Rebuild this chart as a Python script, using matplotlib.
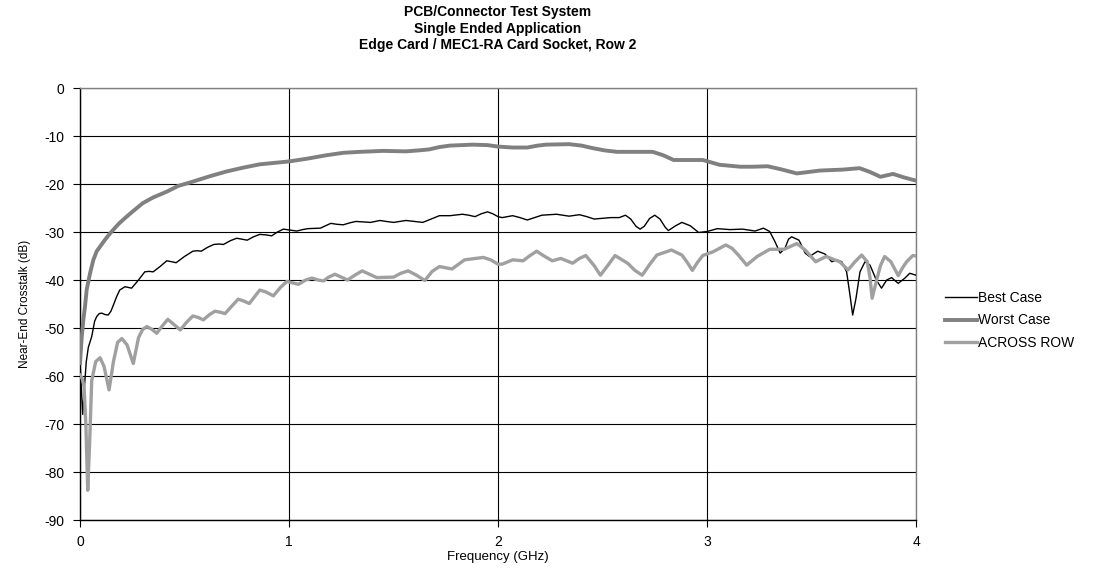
import matplotlib
matplotlib.use("Agg")
import matplotlib.pyplot as plt

plt.rcParams['font.family'] = ['Liberation Sans', 'DejaVu Sans']

# ---- data ----
best_f = [0, 0.006, 0.013, 0.02, 0.03, 0.04, 0.056, 0.07, 0.08, 0.092, 0.104, 0.12, 0.135,
          0.148, 0.16, 0.175, 0.19, 0.215, 0.247, 0.28, 0.31, 0.33, 0.35, 0.383, 0.415,
          0.44, 0.46, 0.50, 0.54, 0.56, 0.58, 0.61, 0.64, 0.665, 0.686, 0.72, 0.75, 0.775,
          0.80, 0.83, 0.86, 0.89, 0.917, 0.945, 0.973, 1.005, 1.037, 1.065, 1.09, 1.15,
          1.175, 1.20, 1.23, 1.26, 1.29, 1.32, 1.355, 1.39, 1.435, 1.465, 1.50, 1.53, 1.56,
          1.60, 1.64, 1.68, 1.72, 1.77, 1.83, 1.86, 1.89, 1.92, 1.95, 1.975, 2.0, 2.02,
          2.045, 2.07, 2.105, 2.14, 2.175, 2.21, 2.28, 2.34, 2.39, 2.425, 2.46, 2.54, 2.58,
          2.61, 2.635, 2.66, 2.68, 2.70, 2.725, 2.75, 2.775, 2.80, 2.815, 2.85, 2.88, 2.92,
          2.96, 3.0, 3.05, 3.11, 3.17, 3.23, 3.27, 3.30, 3.325, 3.35, 3.373, 3.39, 3.405,
          3.44, 3.47, 3.49, 3.53, 3.565, 3.597, 3.62, 3.645, 3.668, 3.684, 3.697, 3.713,
          3.732, 3.756, 3.78, 3.81, 3.835, 3.86, 3.883, 3.915, 3.947, 3.97, 4.0]
best_db = [-57, -62, -68, -63, -57, -54, -51.8, -48.6, -47.6, -47, -46.9, -47.2, -47.3,
           -46.5, -45.2, -43.5, -42.1, -41.4, -41.7, -40, -38.3, -38.2, -38.3, -37.2, -36,
           -36.2, -36.4, -35.1, -34, -33.9, -34, -33.2, -32.6, -32.5, -32.6, -31.8, -31.3,
           -31.5, -31.7, -31, -30.5, -30.6, -30.8, -30, -29.4, -29.6, -29.8, -29.5, -29.3,
           -29.2, -28.7, -28.2, -28.4, -28.5, -28.1, -27.8, -27.9, -28, -27.6, -27.8, -28,
           -27.8, -27.6, -27.8, -28, -27.3, -26.6, -26.6, -26.3, -26.5, -26.8, -26.2, -25.8,
           -26.2, -26.8, -27, -26.8, -26.6, -27, -27.5, -27, -26.5, -26.3, -26.7, -26.4,
           -26.8, -27.3, -27, -27, -26.5, -27.3, -28.8, -29.4, -28.8, -27.2, -26.5, -27.3,
           -29.0, -29.7, -28.7, -28, -28.7, -30.1, -29.9, -29.3, -29.5, -29.4, -29.8, -29.2,
           -29.9, -32, -34.4, -33.4, -31.5, -31, -31.7, -34.4, -35.1, -34, -34.6, -36.2,
           -35.8, -36.2, -38.3, -43.1, -47.3, -43.8, -38.3, -36.2, -36.9, -40, -41.7, -40,
           -39.5, -40.7, -39.6, -38.6, -39]

worst_f = [0, 0.008, 0.016, 0.024, 0.032, 0.048, 0.064, 0.08, 0.10, 0.12, 0.14, 0.16,
           0.185, 0.21, 0.25, 0.30, 0.35, 0.415, 0.47, 0.54, 0.62, 0.70, 0.78, 0.86, 0.93,
           1.0, 1.09, 1.18, 1.26, 1.34, 1.45, 1.56, 1.62, 1.67, 1.72, 1.77, 1.88, 1.95, 2.0,
           2.07, 2.14, 2.19, 2.23, 2.34, 2.40, 2.45, 2.51, 2.57, 2.74, 2.79, 2.84, 2.98,
           3.06, 3.16, 3.22, 3.29, 3.36, 3.43, 3.54, 3.65, 3.73, 3.78, 3.83, 3.89, 3.94, 4.0]
worst_db = [-57.3, -52, -48.3, -45.5, -42, -38.6, -35.8, -34, -32.8, -31.6, -30.5, -29.5,
            -28.3, -27.3, -25.8, -24, -22.8, -21.6, -20.4, -19.5, -18.4, -17.4, -16.6, -15.9,
            -15.6, -15.3, -14.7, -14, -13.5, -13.3, -13.1, -13.2, -13.0, -12.8, -12.3, -12.0,
            -11.8, -11.9, -12.2, -12.4, -12.4, -12.0, -11.8, -11.7, -12.0, -12.5, -13.0,
            -13.3, -13.3, -14.0, -15, -15, -16, -16.4, -16.4, -16.3, -17.0, -17.8, -17.2,
            -17.0, -16.7, -17.5, -18.5, -17.9, -18.6, -19.3]

across_f = [0, 0.01, 0.019, 0.028, 0.037, 0.046, 0.056, 0.075, 0.096, 0.115, 0.139, 0.16,
            0.18, 0.20, 0.225, 0.255, 0.28, 0.30, 0.32, 0.345, 0.367, 0.395, 0.42, 0.45,
            0.48, 0.51, 0.54, 0.565, 0.59, 0.62, 0.646, 0.67, 0.694, 0.725, 0.757, 0.785,
            0.81, 0.835, 0.86, 0.89, 0.925, 0.96, 0.99, 1.045, 1.08, 1.11, 1.14, 1.165, 1.19,
            1.22, 1.25, 1.28, 1.315, 1.35, 1.385, 1.42, 1.50, 1.535, 1.57, 1.61, 1.65, 1.685,
            1.72, 1.78, 1.84, 1.93, 1.965, 2.0, 2.02, 2.07, 2.12, 2.15, 2.185, 2.22, 2.26,
            2.30, 2.357, 2.39, 2.42, 2.46, 2.49, 2.525, 2.56, 2.62, 2.655, 2.69, 2.725, 2.76,
            2.83, 2.88, 2.905, 2.93, 2.955, 2.98, 3.03, 3.09, 3.12, 3.15, 3.19, 3.24, 3.30,
            3.37, 3.43, 3.47, 3.52, 3.57, 3.635, 3.675, 3.708, 3.74, 3.767, 3.78, 3.79, 3.81,
            3.83, 3.85, 3.88, 3.915, 3.935, 3.955, 3.985, 4.0]
across_db = [-59.8, -60.5, -62, -70, -83.8, -74, -61, -57, -56.2, -58, -62.9, -57, -53,
             -52.2, -53.5, -57.4, -52, -50.3, -49.7, -50.3, -51.1, -49.5, -48.2, -49.3, -50.4,
             -48.8, -47.5, -47.8, -48.3, -47.2, -46.5, -46.7, -47, -45.5, -44, -44.4, -44.9,
             -43.5, -42.1, -42.5, -43.3, -41.5, -40.3, -40.9, -40, -39.6, -40, -40.2, -39.4,
             -38.8, -39.4, -40, -39, -38.1, -38.8, -39.5, -39.4, -38.6, -38.1, -39, -40.1,
             -38.2, -37.2, -37.7, -35.8, -35.3, -35.8, -36.7, -36.7, -35.8, -36, -35, -34,
             -35, -36, -35.5, -36.5, -35.5, -34.9, -37, -39, -37, -34.9, -36.5, -38, -39,
             -36.8, -34.8, -33.75, -34.8, -36.3, -38, -36.3, -34.9, -34.1, -32.7, -33.4, -34.8,
             -36.9, -35.1, -33.6, -33.6, -32.4, -33.75, -36.2, -35.1, -36.2, -37.9, -36.2,
             -34.8, -36.2, -39.5, -43.8, -40.3, -37, -35.1, -36.2, -39.1, -37.5, -36.2, -34.9,
             -35]

x_ticks = [0, 1, 2, 3, 4]
y_ticks = [0, -10, -20, -30, -40, -50, -60, -70, -80, -90]

title = "PCB/Connector Test System\nSingle Ended Application\nEdge Card / MEC1-RA Card Socket, Row 2"

# ---- figure ----
fig = plt.figure(figsize=(11.14, 5.75), dpi=100)
ax = fig.add_axes([80/1114, 55/575, 836/1114, 432/575])

ax.plot(best_f, best_db, color='black', lw=1.0, label='Best Case', zorder=3,
        solid_joinstyle='round')
ax.plot(worst_f, worst_db, color='#808080', lw=2.8, label='Worst Case', zorder=4,
        solid_joinstyle='round')
ax.plot(across_f, across_db, color='#a0a0a0', lw=2.4, label='ACROSS ROW', zorder=5,
        solid_joinstyle='round')

ax.set_xlim(0, 4)
ax.set_ylim(-90, 0)
ax.set_xticks(x_ticks)
ax.set_yticks(y_ticks)
ax.set_xticklabels([str(t) for t in x_ticks], fontsize=10)
ax.set_yticklabels([str(t) for t in y_ticks], fontsize=10)
ax.tick_params(axis='both', direction='out', length=5, width=0.8, color='black', pad=6)

ax.grid(True, color='black', lw=0.8)
ax.set_axisbelow(True)
for s in ['top', 'right']:
    ax.spines[s].set_color('#808080')
    ax.spines[s].set_linewidth(1.0)
for s in ['left', 'bottom']:
    ax.spines[s].set_color('black')
    ax.spines[s].set_linewidth(1.0)

ax.set_xlabel("Frequency (GHz)", fontsize=9.5, labelpad=1)
ax.set_ylabel("Near-End Crosstalk (dB)", fontsize=8.5, labelpad=10)

fig.text(498/1114, 1 - 5/575, title, ha='center', va='top', fontsize=10,
         fontweight='bold', linespacing=1.25)

leg = ax.legend(loc='center left', bbox_to_anchor=(1.0196, 0.462), frameon=False,
                fontsize=10, handlelength=2.3, handletextpad=0.1, labelspacing=0.6)

fig.savefig("out.png", dpi=100)
